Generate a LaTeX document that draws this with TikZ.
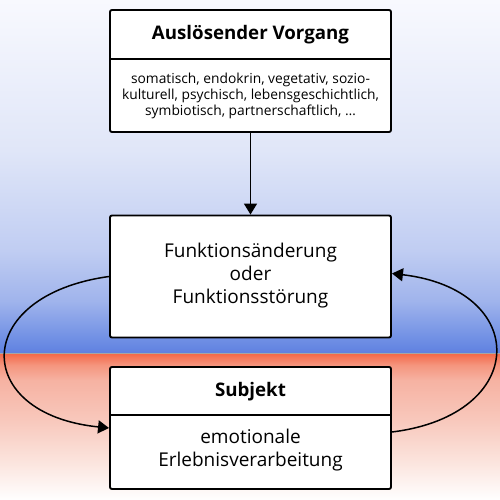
\documentclass[tikz,border=0pt]{standalone}
\usepackage{fontspec}
\setmainfont{Open Sans}
\usetikzlibrary{arrows.meta}
\pgfdeclareverticalshading{bluefade}{100bp}{%
  color(0bp)=(rgb,255:red,95;green,128;blue,224);
  color(25bp)=(rgb,255:red,95;green,128;blue,224);
  color(26.8bp)=(rgb,255:red,110;green,142;blue,228);
  color(32.4bp)=(rgb,255:red,160;green,180;blue,236);
  color(39.5bp)=(rgb,255:red,192;green,205;blue,242);
  color(53.75bp)=(rgb,255:red,224;green,230;blue,248);
  color(75bp)=(rgb,255:red,248;green,249;blue,254);
  color(100bp)=(rgb,255:red,248;green,249;blue,254)}
\pgfdeclareverticalshading{redfade}{100bp}{%
  color(0bp)=(white); color(25bp)=(white);
  color(38.6bp)=(rgb,255:red,251;green,227;blue,220);
  color(52.2bp)=(rgb,255:red,248;green,200;blue,188);
  color(65.8bp)=(rgb,255:red,246;green,178;blue,162);
  color(70.9bp)=(rgb,255:red,245;green,149;blue,126);
  color(75bp)=(rgb,255:red,243;green,102;blue,70);
  color(100bp)=(rgb,255:red,243;green,102;blue,70)}
\tikzset{
  box/.style = {draw=black, fill=white, rounded corners=2pt,
    line width=1.9pt, minimum width=281pt, minimum height=122pt,
    inner sep=0pt},
  head/.style = {align=center, inner sep=0pt,
    font=\bfseries\fontsize{18.7}{22}\selectfont},
  small/.style = {align=center, inner sep=0pt,
    font=\fontsize{13.8}{16}\selectfont},
  big/.style = {align=center, inner sep=0pt,
    font=\fontsize{19}{23}\selectfont},
  sep/.style = {line width=1.4pt},
  arr/.style = {line width=1.5pt, -{Triangle[length=11pt,width=13pt]}}
}
\begin{document}
\begin{tikzpicture}[x=1pt,y=-1pt]
  \useasboundingbox (0,0) rectangle (500,500);
  % background
  \shade[shading=bluefade] (0,0) rectangle (500,353);
  \shade[shading=redfade] (0,353) rectangle (500,500);
  \draw[line width=0.6pt, black!35] (0,353) -- (500,353);
  % boxes
  \node [box] (trigger) at (250.5,71) {};
  \node [head] (triggerhead) at (250.5,35) {Auslösender Vorgang};
  \draw [sep] (trigger.west |- 0,59) -- (trigger.east |- 0,59);
  \node [small] (triggerbody) at (250.5,96)
    {somatisch, endokrin, vegetativ, sozio-\\
     kulturell, psychisch, lebensgeschichtlich,\\
     symbiotisch, partnerschaftlich, \dots};
  \node [box] (change) at (250.5,276.5) {};
  \node [big] (changetext) at (250.5,276)
    {Funktionsänderung\\oder\\Funktionsstörung};
  \node [box] (subj) at (250.5,428) {};
  \node [head] (subjhead) at (250.5,392) {Subjekt};
  \draw [sep] (subj.west |- 0,415) -- (subj.east |- 0,415);
  \node [big] (subjbody) at (250.5,450.5)
    {emotionale\\Erlebnisverarbeitung};
  % connectors
  \draw [arr] (trigger) -- (change);
  \draw [arr] (change.west) .. controls +(-138,19) and +(-138,-14) .. (subj.west);
  \draw [arr] ([yshift=-4pt]subj.east) .. controls +(138,-17) and +(138,16) .. ([yshift=3pt]change.east);
\end{tikzpicture}
\end{document}
